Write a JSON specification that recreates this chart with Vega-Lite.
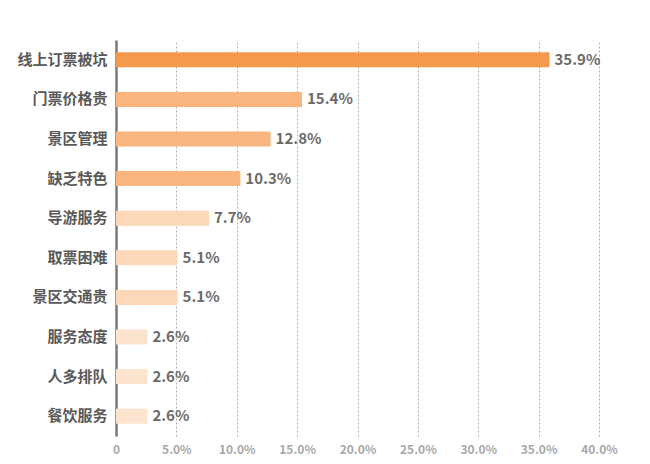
{
  "$schema": "https://vega.github.io/schema/vega-lite/v6.json",
  "autosize": {"type": "none"},
  "width": 483,
  "height": 396,
  "padding": {"left": 116, "top": 40, "right": 51, "bottom": 28},
  "background": "white",
  "config": {"view": {"stroke": null}, "font": "Noto Sans CJK SC"},
  "data": {"values": [
    {"item": "线上订票被坑", "pct": 35.9, "level": "a"},
    {"item": "门票价格贵", "pct": 15.4, "level": "b"},
    {"item": "景区管理", "pct": 12.8, "level": "b"},
    {"item": "缺乏特色", "pct": 10.3, "level": "b"},
    {"item": "导游服务", "pct": 7.7, "level": "c"},
    {"item": "取票困难", "pct": 5.1, "level": "c"},
    {"item": "景区交通贵", "pct": 5.1, "level": "c"},
    {"item": "服务态度", "pct": 2.6, "level": "d"},
    {"item": "人多排队", "pct": 2.6, "level": "d"},
    {"item": "餐饮服务", "pct": 2.6, "level": "d"}
  ]},
  "encoding": {
    "y": {
      "field": "item", "type": "nominal", "sort": null,
      "scale": {"paddingInner": 0.62, "paddingOuter": 0.31},
      "axis": {
        "title": null, "ticks": false, "domainColor": "#7a7a7a", "domainWidth": 2.5,
        "labelFontSize": 15, "labelFontWeight": "bold", "labelColor": "#595959",
        "labelPadding": 9
      }
    },
    "x": {
      "field": "pct", "type": "quantitative",
      "scale": {"domain": [0, 40], "nice": false},
      "axis": {
        "title": null, "values": [0, 5, 10, 15, 20, 25, 30, 35, 40],
        "labelExpr": "datum.value == 0 ? '0' : format(datum.value, '.1f') + '%'",
        "labelFlush": false, "labelOverlap": false,
        "domain": false, "ticks": false, "grid": true, "gridDash": [2, 2],
        "gridColor": "#b0b0b0", "gridWidth": 1,
        "labelFontSize": 12, "labelFontWeight": "bold", "labelColor": "#a8a8a8",
        "labelPadding": 8
      }
    }
  },
  "layer": [
    {
      "mark": {"type": "bar", "size": 15},
      "encoding": {
        "color": {
          "field": "level", "type": "nominal", "legend": null,
          "scale": {"domain": ["a", "b", "c", "d"], "range": ["#F39A4C", "#FAB47D", "#FDD8B8", "#FDE4CE"]}
        }
      }
    },
    {
      "mark": {"type": "text", "align": "left", "baseline": "middle", "dx": 5,
               "fontSize": 15, "fontWeight": "bold", "color": "#6b6b6b",
               "text": {"expr": "format(datum.pct, '.1f') + '%'"}},
      "encoding": {}
    }
  ]
}
